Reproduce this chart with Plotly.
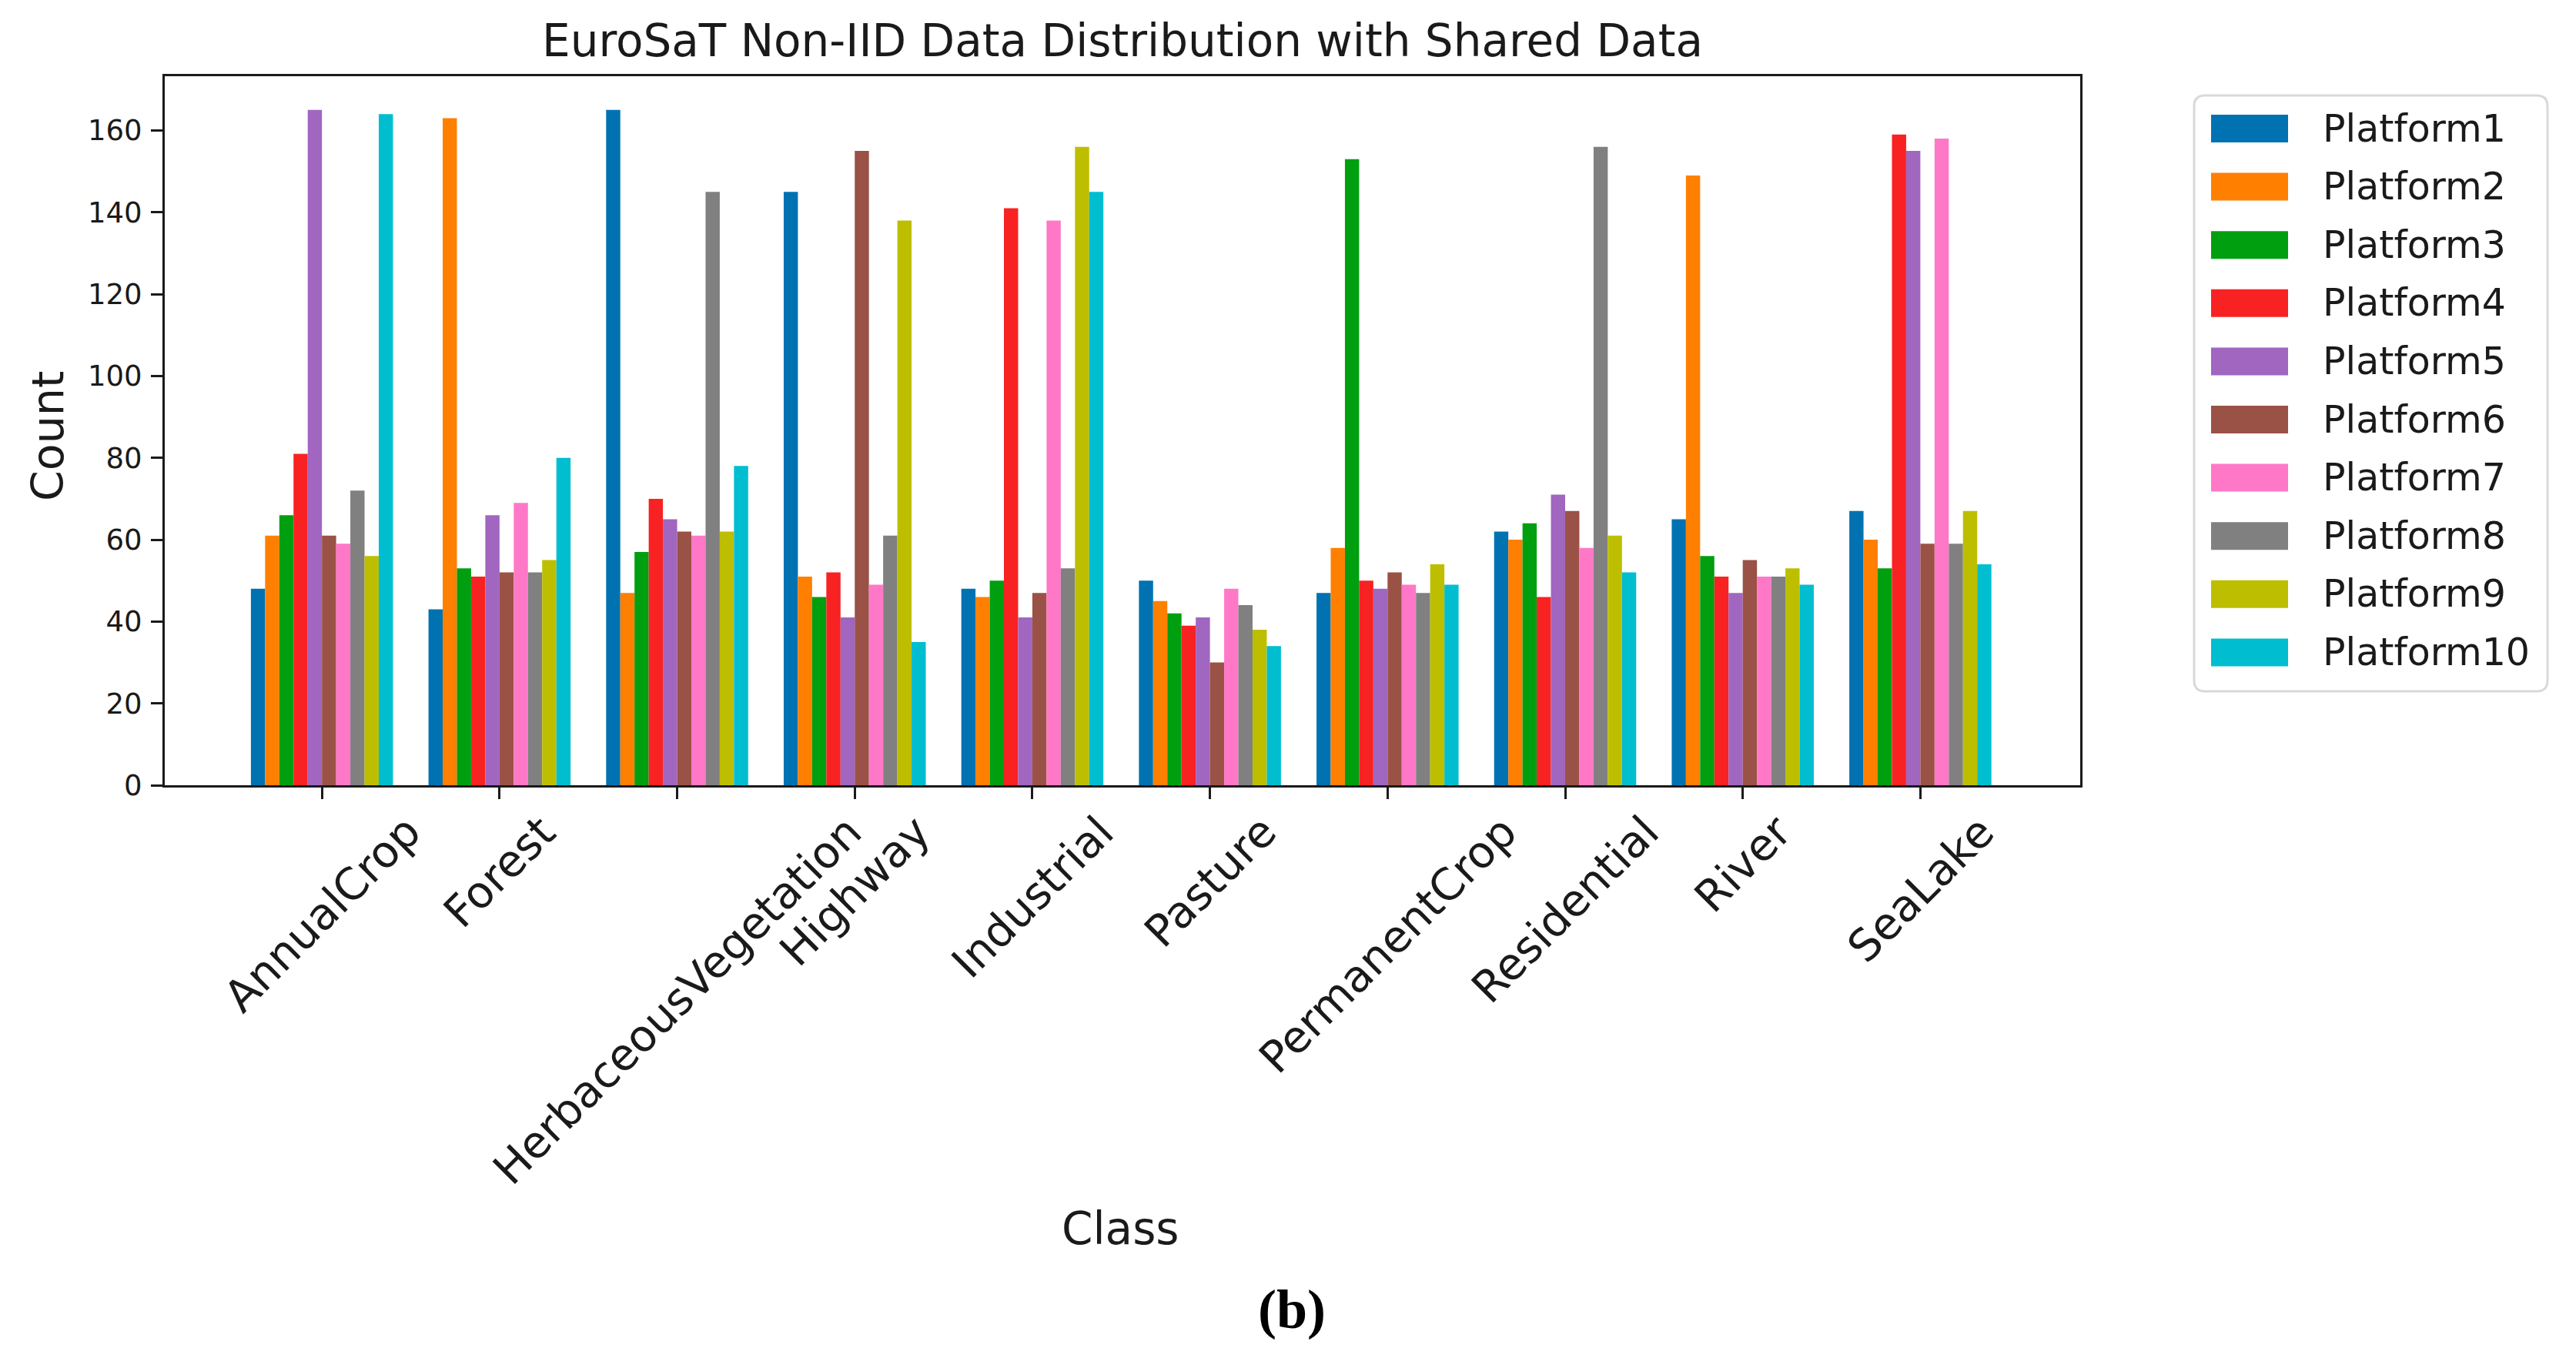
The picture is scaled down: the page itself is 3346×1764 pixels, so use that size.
import plotly.graph_objects as go

# ---- data ----
classes = ["AnnualCrop", "Forest", "HerbaceousVegetation", "Highway", "Industrial",
           "Pasture", "PermanentCrop", "Residential", "River", "SeaLake"]

platforms = ["Platform1", "Platform2", "Platform3", "Platform4", "Platform5",
             "Platform6", "Platform7", "Platform8", "Platform9", "Platform10"]

platform1 = [48, 43, 165, 145, 48, 50, 47, 62, 65, 67]
platform2 = [61, 163, 47, 51, 46, 45, 58, 60, 149, 60]
platform3 = [66, 53, 57, 46, 50, 42, 153, 64, 56, 53]
platform4 = [81, 51, 70, 52, 141, 39, 50, 46, 51, 159]
platform5 = [165, 66, 65, 41, 41, 41, 48, 71, 47, 155]
platform6 = [61, 52, 62, 155, 47, 30, 52, 67, 55, 59]
platform7 = [59, 69, 61, 49, 138, 48, 49, 58, 51, 158]
platform8 = [72, 52, 145, 61, 53, 44, 47, 156, 51, 59]
platform9 = [56, 55, 62, 138, 156, 38, 54, 61, 53, 67]
platform10 = [164, 80, 78, 35, 145, 34, 49, 52, 49, 54]

y_ticks = [0, 20, 40, 60, 80, 100, 120, 140, 160]

colors = ["#0072b2", "#ff7f00", "#009f10", "#f82222", "#a066c0",
          "#9a5246", "#ff78c8", "#808080", "#bebe00", "#00bed0"]

series = [platform1, platform2, platform3, platform4, platform5,
          platform6, platform7, platform8, platform9, platform10]

# ---- page geometry (pixels, as measured on the screen) ----
OFF = 8  # the html body has an 8px margin
W, H = 3346 - 2 * OFF, 1764 - 2 * OFF
L, R, T, B = 214 - OFF, 2702 - OFF, 99 - OFF, 1020 - OFF
FONT = "DejaVu Sans"
INK = "#1a1a1a"


def px_x(px):
    # screen pixel -> paper x
    return (px - OFF - L) / (R - L)


def px_y(py):
    # screen pixel -> paper y
    return (B - (py - OFF)) / (B - T)


def rounded_box(x0, y0, x1, y1, r):
    # path in paper coords for a rounded rectangle given in screen pixels
    ax, bx = px_x(x0), px_x(x1)
    ay, by = px_y(y0), px_y(y1)
    rx = r / (R - L)
    ry = r / (B - T)
    return (f"M {ax + rx},{ay} L {bx - rx},{ay} Q {bx},{ay} {bx},{ay - ry} "
            f"L {bx},{by + ry} Q {bx},{by} {bx - rx},{by} "
            f"L {ax + rx},{by} Q {ax},{by} {ax},{by + ry} "
            f"L {ax},{ay - ry} Q {ax},{ay} {ax + rx},{ay} Z")


fig = go.Figure()

for name, vals, col in zip(platforms, series, colors):
    fig.add_trace(go.Bar(
        x=classes,
        y=vals,
        name=name,
        marker=dict(color=col, line=dict(width=0)),
        showlegend=False,
    ))

annotations = []

# rotated class labels, centred under each tick like matplotlib
for c in classes:
    annotations.append(dict(
        x=c, xref="x", y=px_y(1044), yref="paper",
        text=c, textangle=-45, showarrow=False,
        xanchor="center", yanchor="top",
        font=dict(family=FONT, size=57, color=INK),
    ))

annotations.append(dict(
    x=px_x(62), y=px_y(567), xref="paper", yref="paper",
    text="Count", textangle=-90, showarrow=False,
    xanchor="center", yanchor="middle",
    font=dict(family=FONT, size=57, color=INK),
))
annotations.append(dict(
    x=px_x(1455), y=px_y(1596), xref="paper", yref="paper",
    text="Class", showarrow=False,
    xanchor="center", yanchor="middle",
    font=dict(family=FONT, size=58, color=INK),
))
annotations.append(dict(
    x=px_x(1678), y=px_y(1701), xref="paper", yref="paper",
    text="<b>(b)</b>", showarrow=False,
    xanchor="center", yanchor="middle",
    font=dict(family="Liberation Serif", size=72, color="#000000"),
))

# legend drawn by hand so the swatches match the matplotlib look
shapes = [dict(
    type="path", xref="paper", yref="paper",
    path=rounded_box(2850, 124, 3309, 898, 14),
    line=dict(color="#d9d9d9", width=3), fillcolor="rgba(255,255,255,0.8)",
    layer="above",
)]
for i, (name, col) in enumerate(zip(platforms, colors)):
    cy = 167 + i * 75.6
    shapes.append(dict(
        type="rect", xref="paper", yref="paper",
        x0=px_x(2872), x1=px_x(2972), y0=px_y(cy - 18), y1=px_y(cy + 18),
        line=dict(width=0), fillcolor=col, layer="above",
    ))
    annotations.append(dict(
        x=px_x(3015), y=px_y(cy), xref="paper", yref="paper",
        text=name, showarrow=False, xanchor="left", yanchor="middle",
        font=dict(family=FONT, size=49, color=INK),
    ))

axis_common = dict(
    showline=True, mirror=True, linecolor=INK, linewidth=3,
    ticks="outside", ticklen=15, tickwidth=2.5, tickcolor=INK,
    showgrid=False, zeroline=False,
)

fig.update_layout(
    width=W, height=H,
    margin=dict(l=L, r=W - R, t=T, b=H - B, autoexpand=False),
    paper_bgcolor="white", plot_bgcolor="white",
    barmode="group", bargap=0.2, bargroupgap=0,
    showlegend=False,
    title=dict(
        text="EuroSaT Non-IID Data Distribution with Shared Data",
        x=0.5, xref="paper", xanchor="center",
        y=1 - (53 - OFF) / H, yref="container", yanchor="middle",
        font=dict(family=FONT, size=58, color=INK),
    ),
    xaxis=dict(type="category", range=[-0.885, 9.9], showticklabels=False,
               **axis_common),
    yaxis=dict(range=[0, 173.25], tickvals=y_ticks, ticklabelstandoff=4,
               tickfont=dict(family=FONT, size=37, color=INK), **axis_common),
    annotations=annotations,
    shapes=shapes,
)

fig.write_html("out.html")
